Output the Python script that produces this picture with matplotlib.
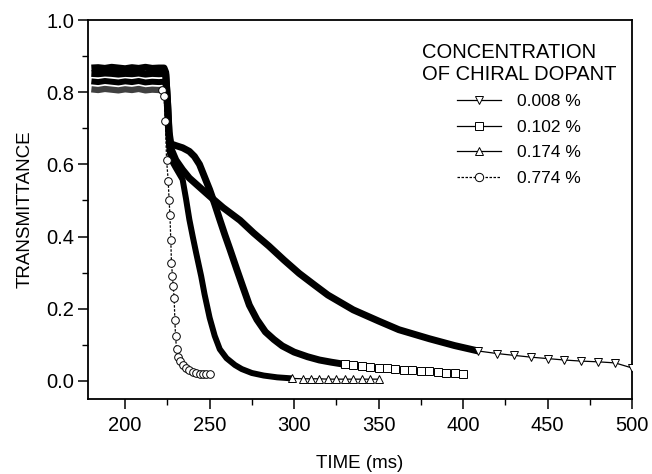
import matplotlib
matplotlib.use("Agg")
import matplotlib.pyplot as plt
from matplotlib.lines import Line2D
from matplotlib.ticker import MultipleLocator, FormatStrFormatter

plt.rcParams['font.family'] = ['Liberation Sans', 'DejaVu Sans']

# ---------------- data ----------------
labels = ["0.008 %", "0.102 %", "0.174 %", "0.774 %"]
legend_title = "CONCENTRATION\nOF CHIRAL DOPANT"

t_008 = [180, 184, 188, 192, 196, 200, 204, 208, 212, 216, 220, 223,
         224, 225, 226, 227, 230, 234, 238, 244, 250, 258, 268, 276, 285,
         294, 303, 312, 320, 335, 350, 362, 380, 395, 409,
         420, 430, 440, 450, 460, 470, 480, 490, 500]
y_008 = [0.867, 0.868, 0.866, 0.869, 0.867, 0.865, 0.868, 0.866, 0.869, 0.866, 0.867, 0.867,
         0.855, 0.78, 0.68, 0.645, 0.612, 0.585, 0.562, 0.537, 0.512, 0.480, 0.445, 0.410, 0.374,
         0.335, 0.298, 0.266, 0.238, 0.197, 0.166, 0.142, 0.117, 0.098, 0.083,
         0.076, 0.071, 0.066, 0.062, 0.058, 0.055, 0.053, 0.050, 0.036]

t_102 = [180, 184, 188, 192, 196, 200, 204, 208, 212, 216, 220, 223,
         224, 225, 226, 227, 230, 234, 238, 241, 244, 247, 250, 253, 256, 259,
         262, 266, 269.5, 273.5, 278, 283, 288, 293, 300, 308, 315, 322, 330,
         335, 340, 345, 350, 355, 360, 365, 370, 375, 380, 385, 390, 395, 400]
y_102 = [0.852, 0.851, 0.853, 0.852, 0.850, 0.852, 0.851, 0.853, 0.850, 0.852, 0.851, 0.852,
         0.850, 0.78, 0.69, 0.657, 0.652, 0.646, 0.636, 0.622, 0.600, 0.565, 0.530, 0.490, 0.447, 0.405,
         0.365, 0.310, 0.263, 0.210, 0.170, 0.136, 0.115, 0.097, 0.080, 0.067, 0.058, 0.052, 0.046,
         0.043, 0.041, 0.039, 0.037, 0.035, 0.033, 0.031, 0.030, 0.028, 0.027, 0.025, 0.023, 0.021, 0.019]

t_174 = [180, 184, 188, 192, 196, 200, 204, 208, 212, 216, 220, 223,
         224, 225, 226, 227, 230, 234, 236, 238, 240, 242, 245, 247, 250, 253,
         256, 260, 265, 269, 275, 282, 290, 299,
         305, 310, 315, 320, 325, 330, 335, 340, 345, 350]
y_174 = [0.830, 0.828, 0.831, 0.829, 0.827, 0.830, 0.828, 0.831, 0.827, 0.829, 0.828, 0.829,
         0.820, 0.74, 0.65, 0.615, 0.590, 0.558, 0.505, 0.447, 0.400, 0.355, 0.290, 0.240, 0.175, 0.125,
         0.088, 0.063, 0.044, 0.033, 0.022, 0.015, 0.010, 0.007,
         0.006, 0.006, 0.006, 0.005, 0.005, 0.005, 0.005, 0.005, 0.005, 0.005]

t_774 = [180, 184, 188, 192, 196, 200, 204, 208, 212, 216, 220, 222,
         223, 223.8, 224.5, 225.5, 226, 226.5, 227, 227.4, 228, 228.4, 229, 229.4,
         229.8, 230.4, 231.5, 232.4, 234, 236, 238, 240, 242, 244, 246, 248, 250]
y_774 = [0.808, 0.806, 0.809, 0.807, 0.805, 0.808, 0.806, 0.809, 0.805, 0.807, 0.806, 0.807,
         0.790, 0.720, 0.613, 0.553, 0.500, 0.461, 0.390, 0.328, 0.290, 0.263, 0.230, 0.170,
         0.125, 0.088, 0.066, 0.056, 0.045, 0.036, 0.030, 0.025, 0.022, 0.020, 0.019, 0.020, 0.020]

# time after which each record is drawn with sparse markers instead of a dense band
dense_end = [409, 330, 299, 222]

series_t = [t_008, t_102, t_174, t_774]
series_y = [y_008, y_102, y_174, y_774]
markers = ['v', 's', '^', 'o']
styles = ['-', '-', '-', (0, (2.0, 1.2))]
band_w = [5.0, 5.0, 4.3, 4.5]
band_c = ['black', 'black', 'black', '#404040']

x_ticks = [200, 250, 300, 350, 400, 450, 500]
y_ticks = [0.0, 0.2, 0.4, 0.6, 0.8, 1.0]

# ---------------- figure ----------------
fig = plt.figure(figsize=(6.52, 4.74), dpi=100)
W, H = 652, 474
ax = fig.add_axes([88 / W, 1 - 399 / H, (632 - 88) / W, (399 - 20) / H])

for t, y, m, ls, de, bw, bc in zip(series_t, series_y, markers, styles,
                                   dense_end, band_w, band_c):
    td = [a for a in t if a <= de]
    yd = [b for a, b in zip(t, y) if a <= de]
    tt = [a for a in t if a >= de]
    yt = [b for a, b in zip(t, y) if a >= de]
    ax.plot(td, yd, color=bc, lw=bw, solid_capstyle='butt',
            solid_joinstyle='round', zorder=2)
    ax.plot(tt, yt, color='black', lw=0.9, ls=ls, marker=m, ms=5.5,
            mfc='white', mec='black', mew=0.7, zorder=3)

ax.set_xlim(178, 500)
ax.set_ylim(-0.05, 1.0)
ax.set_xticks(x_ticks)
ax.set_yticks(y_ticks)
ax.xaxis.set_minor_locator(MultipleLocator(25))
ax.yaxis.set_minor_locator(MultipleLocator(0.1))
ax.yaxis.set_major_formatter(FormatStrFormatter('%.1f'))
ax.tick_params(which='major', direction='out', length=7, width=1.1,
               labelsize=14.5, top=False, right=False)
ax.tick_params(axis='x', which='major', pad=5)
ax.tick_params(axis='y', which='major', pad=3)
ax.tick_params(which='minor', direction='out', length=4, width=1.0,
               top=False, right=False)
for s in ax.spines.values():
    s.set_linewidth(1.3)

ax.set_xlabel('TIME (ms)', fontsize=13.5, labelpad=15)
ax.set_ylabel('TRANSMITTANCE', fontsize=13.5, labelpad=9)

handles = [Line2D([], [], color='black', lw=0.9, ls=ls, marker=m, ms=6,
                  mfc='white', mec='black', mew=0.7)
           for m, ls in zip(markers, styles)]
leg = ax.legend(handles, labels, title=legend_title, frameon=False,
                fontsize=12.5, title_fontsize=14.5,
                loc='upper left', bbox_to_anchor=(413 / W, 1 - 34 / H),
                bbox_transform=fig.transFigure, borderpad=0,
                handlelength=2.5, handletextpad=0.9, labelspacing=0.6)
leg.get_title().set_multialignment('left')

fig.savefig('out.png', dpi=100)
